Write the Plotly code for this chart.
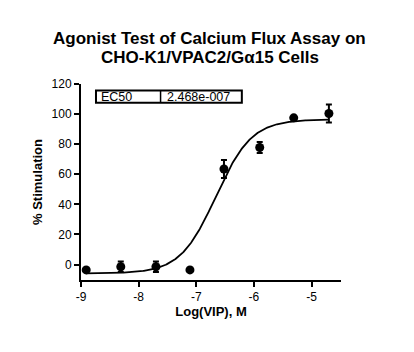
import numpy as np
import plotly.graph_objects as go

# ---- data ----
log_vip = [-8.91, -8.31, -7.70, -7.11, -6.52, -5.90, -5.31, -4.70]
stimulation = [-3.6, -1.5, -1.5, -3.6, 63.5, 77.8, 97.5, 100.4]
sem = [0.0, 3.5, 3.5, 0.0, 6.0, 3.7, 0.0, 6.0]

# fitted 4-parameter logistic curve (as drawn in the reference)
fit_bottom = -6.0
fit_top = 96.5
fit_logec50 = -6.66
fit_hill = 1.4
fit_xmin, fit_xmax = -8.91, -4.70

ec50_name = "EC50"
ec50_text = "2.468e-007"

title_lines = ["Agonist Test of Calcium Flux Assay on", "CHO-K1/VPAC2/G\u03b115 Cells"]

x_ticks = [-9, -8, -7, -6, -5]
y_ticks = [0, 20, 40, 60, 80, 100, 120]

xc = np.linspace(fit_xmin, fit_xmax, 300)
yc = fit_bottom + (fit_top - fit_bottom) / (1 + 10 ** ((fit_logec50 - xc) * fit_hill))

fig = go.Figure()
fig.add_trace(go.Scatter(x=xc, y=yc, mode="lines",
                         line=dict(color="black", width=1.8), hoverinfo="skip"))
fig.add_trace(go.Scatter(x=log_vip, y=stimulation, mode="markers",
                         marker=dict(color="black", size=9),
                         error_y=dict(type="data", array=sem, visible=True,
                                      color="black", thickness=2, width=3)))

font_main = "Liberation Sans, Arial, sans-serif"

fig.update_layout(
    width=414, height=352,
    margin=dict(l=81, r=73, t=84, b=72),
    paper_bgcolor="white", plot_bgcolor="white",
    showlegend=False,
    font=dict(family=font_main, color="black", size=12),
    xaxis=dict(range=[-9, -4.49], tickvals=x_ticks, ticktext=[str(v) for v in x_ticks],
               showline=True, linecolor="black", linewidth=2,
               ticks="outside", ticklen=5, tickwidth=2, tickcolor="black",
               showgrid=False, zeroline=False,
               tickfont=dict(size=12),
               title=dict(text="<b>Log(VIP), M</b>", font=dict(size=13), standoff=3)),
    yaxis=dict(range=[-10.3, 120], tickvals=y_ticks,
               showline=True, linecolor="black", linewidth=2,
               ticks="outside", ticklen=5, tickwidth=2, tickcolor="black",
               showgrid=False, zeroline=False,
               tickfont=dict(size=12),
               title=dict(text="<b>% Stimulation</b>", font=dict(size=13), standoff=6)),
)

# two-line bold title
for i, (line, ypx) in enumerate(zip(title_lines, [38.5, 57.0])):
    fig.add_annotation(text="<b>" + line + "</b>", xref="paper", yref="paper",
                       x=(209.5 - 81) / 260, y=(280 - ypx) / 196,
                       xanchor="center", yanchor="middle", showarrow=False,
                       font=dict(family=font_main, size=17, color="black"))

# EC50 table box
bx0, bx1, bdiv = -8.74, -6.21, -7.62
by0, by1 = 107.6, 115.6
fig.add_shape(type="rect", x0=bx0, x1=bx1, y0=by0, y1=by1,
              line=dict(color="black", width=2), xref="x", yref="y")
fig.add_shape(type="line", x0=bdiv, x1=bdiv, y0=by0, y1=by1,
              line=dict(color="black", width=1.5), xref="x", yref="y")
fig.add_annotation(x=bx0 + 0.06, y=(by0 + by1) / 2, text=ec50_name, showarrow=False,
                   xanchor="left", yanchor="middle", font=dict(size=12.5))
fig.add_annotation(x=bdiv + 0.08, y=(by0 + by1) / 2, text=ec50_text, showarrow=False,
                   xanchor="left", yanchor="middle", font=dict(size=12.5))

fig.write_html("out.html")
